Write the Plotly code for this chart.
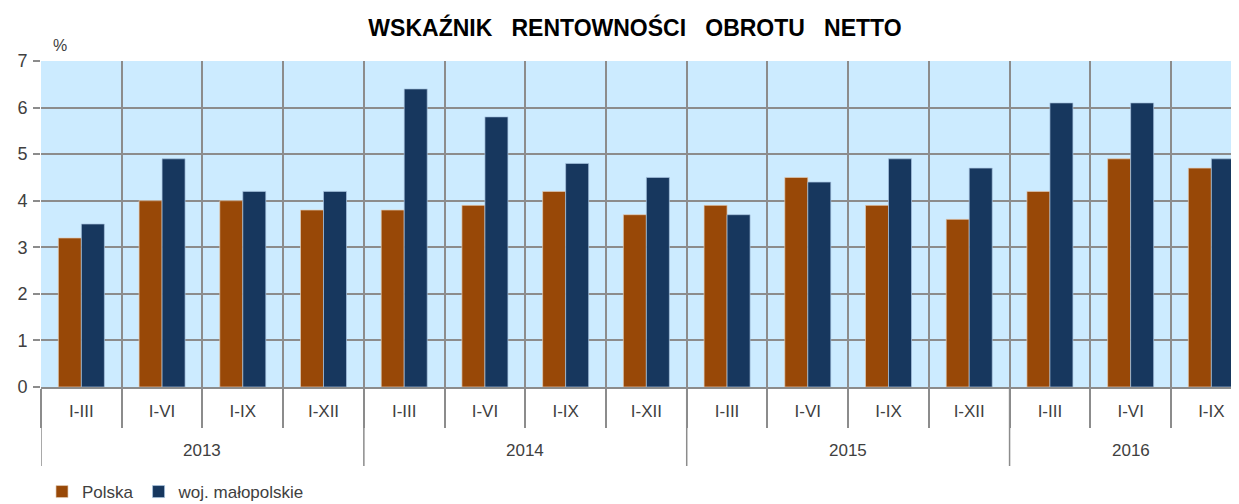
import plotly.graph_objects as go

years = ["2013"] * 4 + ["2014"] * 4 + ["2015"] * 4 + ["2016"] * 3
periods = ["I-III", "I-VI", "I-IX", "I-XII"] * 3 + ["I-III", "I-VI", "I-IX"]
polska = [3.2, 4.0, 4.0, 3.8, 3.8, 3.9, 4.2, 3.7, 3.9, 4.5, 3.9, 3.6, 4.2, 4.9, 4.7]
malopolskie = [3.5, 4.9, 4.2, 4.2, 6.4, 5.8, 4.8, 4.5, 3.7, 4.4, 4.9, 4.7, 6.1, 6.1, 4.9]

FONT = "Liberation Sans, Arial, sans-serif"
GRID = "#8c8c8c"
TXT = "#404040"

n = len(periods)
xpos = list(range(n))
boundaries = [i - 0.5 for i in range(n + 1)]

# year groups
year_names = []
for y in years:
    if y not in year_names:
        year_names.append(y)
year_centers = []
year_starts = []
for y in year_names:
    idx = [i for i, v in enumerate(years) if v == y]
    year_starts.append(idx[0] - 0.5)
    year_centers.append((idx[0] + idx[-1]) / 2)

# page body has an 8px margin; target geometry is given in screen pixels
OFF = 8
W, H = 1239 - OFF, 504
SCR_L, SCR_T, SCR_B = 41, 61, 387          # plot area edges on screen
L = SCR_L - OFF
T = SCR_T - OFF
B = H - (SCR_B - OFF)
R = 0
plot_h = H - T - B
plot_w = W - L - R
cat_px = (1171 - 41) / 14.0                # pixel width of one category
x_end = -0.5 + plot_w / cat_px


def py(scr):
    return (SCR_B - scr) / plot_h


def px(scr):
    return (scr - SCR_L) / plot_w


fig = go.Figure()
fig.add_trace(go.Bar(x=xpos, y=polska, name="Polska",
                     marker=dict(color="#984807", line=dict(color="#e3cdb8", width=0.7))))
fig.add_trace(go.Bar(x=xpos, y=malopolskie, name="woj. małopolskie",
                     marker=dict(color="#17375E", line=dict(color="#a9c4e0", width=0.7))))

annotations = [dict(text="%", x=px(51), y=py(35), xref="paper", yref="paper",
                    showarrow=False, font=dict(size=16, color=TXT))]
for name, c in zip(year_names, year_centers):
    annotations.append(dict(text=name, x=c, y=py(450), xref="x", yref="paper",
                            showarrow=False, yanchor="middle",
                            font=dict(size=17, color=TXT)))

shapes = [dict(type="line", xref="x", yref="paper", x0=s, x1=s, y0=0, y1=py(466),
               line=dict(color=GRID, width=1.5)) for s in year_starts]

fig.update_layout(
    width=W, height=H,
    margin=dict(l=L, r=R, t=T, b=B, autoexpand=False),
    paper_bgcolor="white", plot_bgcolor="#CCEBFF",
    barmode="group", bargap=0.43, bargroupgap=0,
    font=dict(family=FONT, color=TXT),
    title=dict(text="WSKAŹNIK\u00a0\u00a0 RENTOWNOŚCI\u00a0\u00a0 OBROTU\u00a0\u00a0 NETTO",
               x=(635 - OFF) / W, xanchor="center", y=1 - (28 - OFF) / H, yanchor="middle",
               font=dict(family=FONT, size=23, color="black", weight="bold")),
    showlegend=True,
    legend=dict(orientation="h", x=px(42), y=py(492),
                yanchor="middle", xanchor="left", font=dict(size=17, color=TXT),
                bgcolor="rgba(0,0,0,0)"),
    annotations=annotations,
    shapes=shapes,
)

fig.update_xaxes(range=[-0.5, x_end], automargin=False,
                 tickmode="array", tickvals=xpos, ticktext=periods,
                 showgrid=False, ticks="", ticklabelstandoff=8,
                 minor=dict(tickvals=boundaries, showgrid=True, gridcolor=GRID, gridwidth=1.5,
                            ticks="outside", ticklen=39, tickcolor=GRID, tickwidth=1.5),
                 showline=True, linecolor=GRID, linewidth=1.5, zeroline=False,
                 tickfont=dict(size=17, color=TXT))
fig.update_yaxes(range=[0, 7], dtick=1, automargin=False,
                 showgrid=True, gridcolor=GRID, gridwidth=1.5,
                 ticks="outside", ticklen=7, tickcolor=GRID, tickwidth=1.5, zeroline=False,
                 tickfont=dict(size=18, color=TXT), ticklabelstandoff=2)

fig.write_html("out.html")
